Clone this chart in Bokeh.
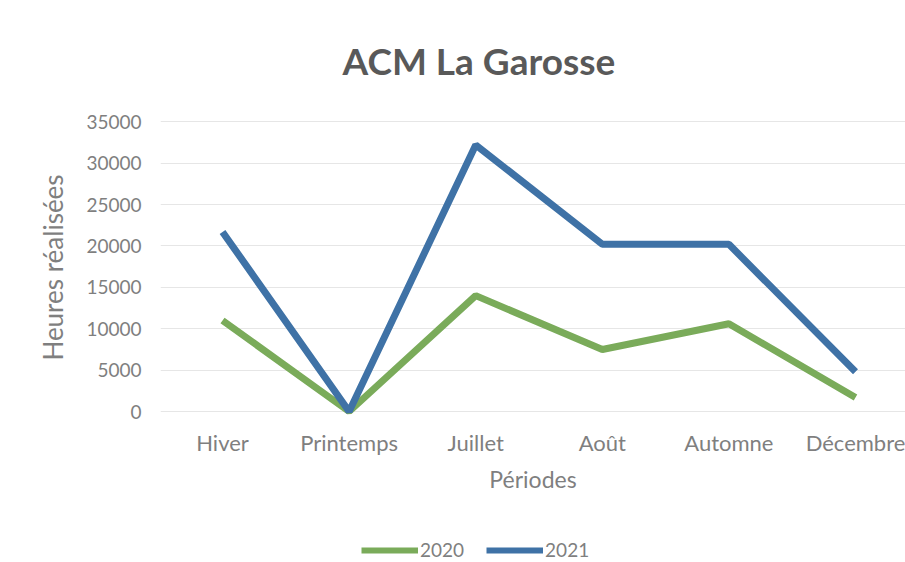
from bokeh.plotting import figure
from bokeh.layouts import column
from bokeh.models import (Range1d, FixedTicker, Legend, LegendItem, Title,
                          ColumnDataSource)
from bokeh.embed import file_html
from bokeh.resources import INLINE

periods = ["Hiver", "Printemps", "Juillet", "Août", "Automne", "Décembre"]
hours_2020 = [11000, 0, 14000, 7500, 10600, 1700]
hours_2021 = [21700, 0, 32200, 20200, 20200, 4800]
y_ticks = [0, 5000, 10000, 15000, 20000, 25000, 30000, 35000]
series_labels = ["2020", "2021"]
series_colors = ["#7aab5a", "#3f72a6"]

idx = list(range(len(periods)))
src = ColumnDataSource(dict(x=idx, y2020=hours_2020, y2021=hours_2021))

FONT = "Lato"
GREY = "#7f7f7f"

p = figure(frame_width=745, frame_height=298, output_backend="svg", toolbar_location=None,
           x_range=Range1d(-0.49, 5.395), y_range=Range1d(-600, 35400),
           min_border_left=160, min_border_right=0, min_border_top=118,
           min_border_bottom=84)
p.outline_line_color = None
p.background_fill_color = "white"
p.border_fill_color = "white"

title = Title(text="ACM La Garosse", align="left", offset=182,
              text_font=FONT, text_font_size="37px", text_font_style="bold",
              text_color="#595959", standoff=71)
p.add_layout(title, "above")

r20 = p.line("x", "y2020", source=src, line_color=series_colors[0], line_width=7)
r21 = p.line("x", "y2021", source=src, line_color=series_colors[1], line_width=7)

p.xaxis.ticker = FixedTicker(ticks=idx)
p.xaxis.major_label_overrides = {i: lab for i, lab in enumerate(periods)}
p.xaxis.axis_line_color = None
p.xaxis.major_tick_line_color = None
p.xaxis.minor_tick_line_color = None
p.xaxis.major_label_standoff = 6
p.xaxis.major_label_text_font = FONT
p.xaxis.major_label_text_font_size = "22px"
p.xaxis.major_label_text_color = GREY
p.xaxis.axis_label = "Périodes"
p.xaxis.axis_label_text_font = FONT
p.xaxis.axis_label_text_font_size = "23px"
p.xaxis.axis_label_text_font_style = "normal"
p.xaxis.axis_label_text_color = GREY
p.xaxis.axis_label_standoff = 6

p.yaxis.ticker = FixedTicker(ticks=y_ticks)
p.yaxis.axis_line_color = None
p.yaxis.major_tick_line_color = None
p.yaxis.minor_tick_line_color = None
p.yaxis.major_label_standoff = 13
p.yaxis.major_label_text_font = FONT
p.yaxis.major_label_text_font_size = "19px"
p.yaxis.major_label_text_color = GREY
p.yaxis.axis_label = "Heures réalisées"
p.yaxis.axis_label_text_font = FONT
p.yaxis.axis_label_text_font_size = "26px"
p.yaxis.axis_label_text_font_style = "normal"
p.yaxis.axis_label_text_color = GREY
p.yaxis.axis_label_standoff = 14

p.xgrid.grid_line_color = None
p.ygrid.grid_line_color = "#e6e6e6"
p.ygrid.ticker = FixedTicker(ticks=y_ticks)

# legend strip below the chart (same horizontal geometry as the main plot)
lg = figure(frame_width=745, frame_height=62, output_backend="svg", toolbar_location=None,
            x_range=Range1d(-0.49, 5.395), y_range=Range1d(-300000, -200000),
            x_axis_location=None, y_axis_location=None,
            min_border_left=160, min_border_right=0,
            min_border_top=0, min_border_bottom=0)
lg.outline_line_color = None
lg.grid.grid_line_color = None
lg.border_fill_color = "white"
lg.background_fill_color = "white"
# same series, drawn outside the visible range: only their legend samples show
k20 = lg.line("x", "y2020", source=src, line_color=series_colors[0], line_width=6)
k21 = lg.line("x", "y2021", source=src, line_color=series_colors[1], line_width=6)

legend = Legend(items=[LegendItem(label=series_labels[0], renderers=[k20]),
                       LegendItem(label=series_labels[1], renderers=[k21])],
                orientation="horizontal", location=(201, 1),
                glyph_width=57, glyph_height=14, label_standoff=2, spacing=22,
                label_text_font=FONT, label_text_font_size="19px",
                label_text_color=GREY, border_line_color=None,
                background_fill_alpha=0, margin=0, padding=2)
lg.add_layout(legend, "center")

layout = column(p, lg, spacing=0)
open("out.html", "w").write(file_html(layout, INLINE))
